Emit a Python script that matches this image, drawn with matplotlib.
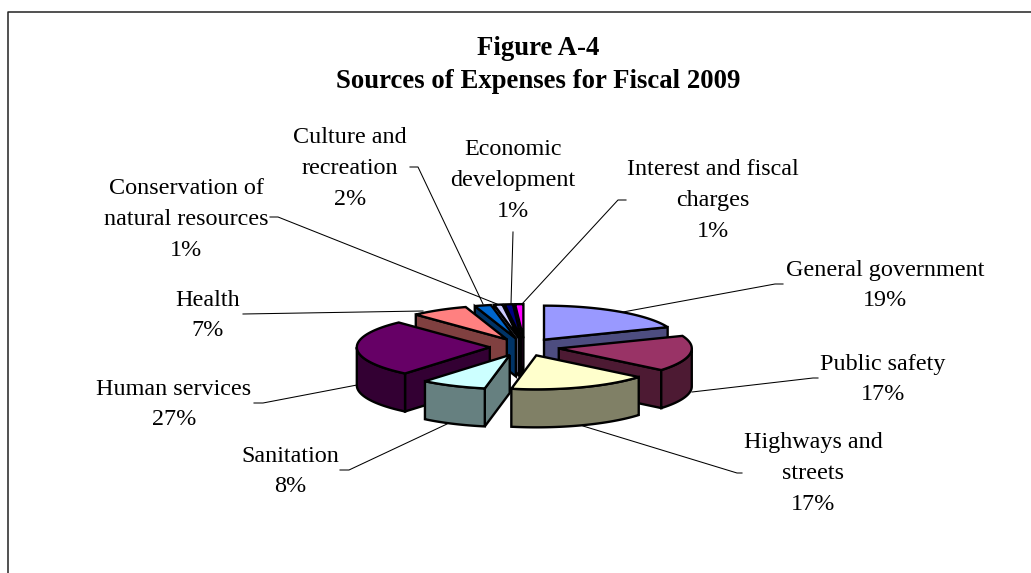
import numpy as np
import matplotlib
matplotlib.use("Agg")
import matplotlib.pyplot as plt
from matplotlib.patches import Polygon
from matplotlib.colors import to_rgb

plt.rcParams["font.family"] = ["Liberation Serif", "DejaVu Serif"]

names = ["General government", "Public safety", "Highways and\nstreets", "Sanitation",
         "Human services", "Health", "Culture and\nrecreation",
         "Conservation of\nnatural resources", "Economic\ndevelopment",
         "Interest and fiscal\ncharges"]
values = [19, 17, 17, 8, 27, 7, 2, 1, 1, 1]
colors = ["#9999FF", "#993366", "#FFFFCC", "#CCFFFF", "#660066",
          "#FF8080", "#0066CC", "#CCCCFF", "#000080", "#FF00FF"]

# label centres, in picture pixels
label_x = [885, 883, 813, 290, 174, 208, 350, 186, 513, 713]
label_y = [285.5, 379.5, 473.5, 471.5, 404.5, 315.5, 168.5, 219.5, 180.5, 200.5]

# leader lines, in picture pixels
leaders = [
    [(623, 312), (775, 284), (783, 284)],
    [(692, 392), (813, 378), (818, 378)],
    [(583, 426), (737, 473), (742, 473)],
    [(447, 424), (349, 470), (340, 470)],
    [(357, 385), (263, 403), (254, 403)],
    [(423, 311), (243, 314)],
    [(483, 304), (418, 167), (410, 167)],
    [(497, 304), (278, 217), (270, 217)],
    [(511, 304), (513, 232)],
    [(522, 304), (618, 200), (626, 200)],
]

CX, CY = 524.5, 347.0
RX, RY = 133, 34
EXPLODE = 34.7
DEPTH = 38

fig = plt.figure(figsize=(10.31, 5.73), dpi=100)
ax = fig.add_axes([0, 0, 1, 1])
ax.set_xlim(0, 1031)
ax.set_ylim(573, 0)
ax.axis("off")

# frame, cut off at the right and bottom like the original
ax.plot([8, 8, 1031], [573, 11.5, 11.5], color="#222222", lw=1.1)


def shade(c):
    return tuple(v * 0.5 for v in to_rgb(c))


def rim(a, b, apex):
    t = np.radians(np.linspace(a, b, 80))
    return np.column_stack([apex[0] + RX * np.sin(t), apex[1] - RY * np.cos(t)])


def draw_slice(a, b, col):
    mid = np.radians((a + b) / 2)
    apex = (CX + EXPLODE * np.sin(mid), CY - EXPLODE * RY / RX * np.cos(mid))
    kw = dict(edgecolor="black", lw=1.7, joinstyle="miter")
    down = np.array([0, DEPTH])
    pts = rim(a, b, apex)
    side = shade(col)
    # cut faces that look at the viewer
    if np.sin(np.radians(a)) < 0:
        q = [apex, pts[0], pts[0] + down, np.array(apex) + down]
        ax.add_patch(Polygon(q, facecolor=side, **kw))
    if np.sin(np.radians(b)) > 0:
        q = [apex, pts[-1], pts[-1] + down, np.array(apex) + down]
        ax.add_patch(Polygon(q, facecolor=side, **kw))
    # outer wall, front half only
    lo, hi = max(a, 90), min(b, 270)
    if lo < hi:
        wall = rim(lo, hi, apex)
        ax.add_patch(Polygon(np.vstack([wall, wall[::-1] + down]), facecolor=side, **kw))
    ax.add_patch(Polygon(np.vstack([[apex], pts]), facecolor=col, **kw))


edges = np.concatenate([[0], np.cumsum(values)]) * 360 / sum(values)
mids = (edges[:-1] + edges[1:]) / 2
for i in np.argsort(-np.cos(np.radians(mids))):
    draw_slice(edges[i], edges[i + 1], colors[i])

for line in leaders:
    xs, ys = zip(*line)
    ax.plot(xs, ys, color="black", lw=0.75, zorder=1)

for name, v, x, y in zip(names, values, label_x, label_y):
    ax.text(x, y, f"{name}\n{v}%", ha="center", va="center", fontsize=17.4,
            linespacing=1.6, color="black")

ax.text(538, 65, "Figure A-4\nSources of Expenses for Fiscal 2009", ha="center", va="center",
        fontsize=19.3, fontweight="bold", linespacing=1.45)

fig.savefig("out.png", dpi=100)
plt.close(fig)
